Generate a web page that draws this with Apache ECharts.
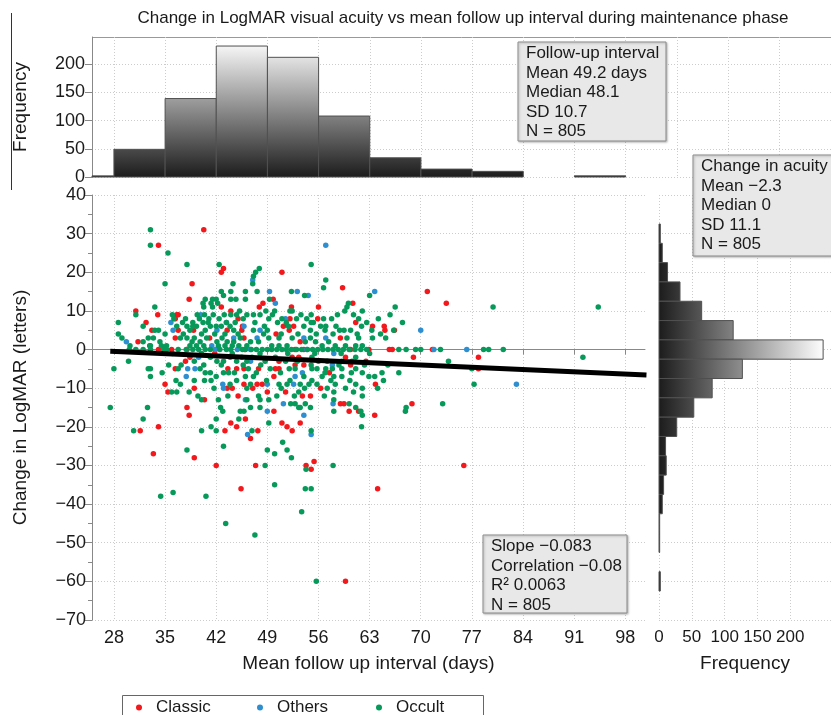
<!DOCTYPE html>
<html>
<head>
<meta charset="utf-8">
<title>Change in LogMAR visual acuity vs mean follow up interval</title>
<script src="https://cdn.jsdelivr.net/npm/echarts@6.0.0/dist/echarts.min.js"></script>
<style>
html, body { margin: 0; padding: 0; background: #fff; }
#chart { width: 831px; height: 715px; }
</style>
</head>
<body>
<div id="chart"></div>
<script>
// follow-up interval histogram (7 day bins, start of bin)
var intervalBinStart = [21, 28, 35, 42, 49, 56, 63, 70, 77, 84, 91];
var intervalCounts = [2, 49, 139, 232, 212, 108, 34, 14, 10, 0, 2];

// change in acuity histogram (5 letter bins, centre of bin)
var acuityBinMid = [30, 25, 20, 15, 10, 5, 0, -5, -10, -15, -20, -25, -30, -35, -40, -45, -50, -55, -60];
var acuityCounts = [2, 5, 13, 32, 65, 113, 250, 127, 81, 53, 27, 10, 11, 7, 5, 1, 1, 0, 2];

var xTicks = [28, 35, 42, 49, 56, 63, 70, 77, 84, 91, 98];
var xTicksTop = [28, 35, 42, 49, 56, 63, 70, 77, 84, 91, 98, 105, 112, 119];
var freqTicks = [0, 50, 100, 150, 200];

// fitted line end points
var regX = [27.5, 100.9];
var regY = [-0.45, -6.6];

var classic = [
  [34.1,27],[40.3,31],[38.7,17],[38.3,13],[43.0,21],[42.7,20],[42.7,11],[31.0,10],[34.0,9],[32.4,7],[36.4,8],[36.6,9],[36.8,9],[44.0,10],[45.0,8],[45.6,6],
  [51.0,20],[59.3,16],[49.8,13],[48.4,12],[47.9,11],[52.3,11],[52.1,8],[51.2,6],[52.6,6],[56.0,11],[55.9,8],[60.7,12],[61.1,7],[63.4,6],[65.0,6],[66.4,5],
  [70.9,15],[73.5,12],[71.6,0],[69.0,-2],[77.9,-2],[77.9,-5],[68.8,-14],
  [52.0,5],[65.1,5],[59.0,3],[53.5,2],[52.8,0],[54.0,0],[60.4,0],[62.9,0],[65.7,0],[66.1,0],[52.4,-2],[53.3,-2],[59.7,-2],[50.6,-3],[52.8,-4],[54.0,-4],[60.4,-4],
  [47.8,-5],[50.1,-5],[50.6,-5],[49.9,-7],[63.8,-9],[47.6,-9],[48.3,-9],[56.3,-10],[49.0,-11],[51.5,-11],[54.9,-12],[53.8,-12],[59.0,-14],[59.5,-14],[61.5,-16],
  [49.9,-16],[60.2,-16],[63.7,-17],[51.0,-19],[51.7,-20],[53.5,-19],[47.7,-21],[46.7,-23],[52.4,-21],
  [33.2,5],[36.8,5],[38.9,5],[43.5,5],[45.5,5],[31.3,2],[36.4,3],[41.1,3],[45.8,3],[32.9,1],[34.1,0],[35.9,0],[38.0,0],[45.9,0],[37.8,-3],[38.4,-2],
  [36.4,-5],[43.6,-5],[44.8,-5],[45.8,-5],[35.0,-9],[45.8,-9],[39.0,-10],[43.5,-10],[44.2,-10],[35.4,-11],[45.0,-12],[40.4,-13],[38.0,-15],[38.3,-17],
  [46.0,-18],[44.0,-19],[34.1,-20],[44.8,-20],[31.6,-21],[43.2,-21],[33.4,-27],[39.0,-28],
  [42.0,-30],[47.4,-30],[54.3,-30],[55.0,-31],[55.4,-29],[75.9,-30],[45.4,-36],[64.1,-36],[59.7,-60],
  [41.8,-1],[50.2,4],[57.5,-6],[47.0,-10],[62.5,-3]
];

var others = [
  [35.8,7],[39.9,9],[43.4,7],
  [57.0,27],[47.0,18],[49.3,15],[53.1,15],[54.6,14],[63.7,15],[50.1,12],[51.5,8],
  [70.0,5],[71.8,0],[76.3,0],[83.1,-9],
  [48.0,5],[47.6,3],[54.0,3],[57.0,3],[46.7,0],[54.4,0],[58.1,-1],[46.7,-3],[57.9,-4],[53.8,-6],[52.8,-7],[49.0,-9],[52.6,-9],[58.0,-14],[51.2,-14],
  [49.0,-16],[54.0,-17],[46.3,-22],[55.0,-22],
  [45.8,6],[36.1,5],[42.1,5],[29.7,2],[44.4,3],[41.4,1],[41.9,0],[44.9,0],[39.6,-2],[38.1,-5],[39.1,-5],[37.9,-7],[42.9,-9],[43.0,-10],[46.0,-13]
];

var occult = [
  [28.6,7],[33.0,31],[33.0,27],[35.4,25],[38.0,22],[35.0,17],[42.4,22],[44.3,17],[42.7,15],[43.0,14],[44.0,15],[44.0,13],[44.7,13],[41.5,13],[40.5,13],
  [42.0,13],[40.2,12],[41.3,12],[42.2,12],[40.3,11],[41.5,11],[31.0,9],[33.6,11],[32.0,6],[36.0,9],[37.4,7],[38.0,6],[38.8,6],[38.8,7],[39.4,9],[40.4,9],
  [40.2,7],[41.6,9],[41.0,8],[42.0,6],[42.7,6],[43.4,7],[43.9,6],[44.0,9],[45.2,10],[44.8,9],[39.3,6],[41.2,6],[36.2,8],
  [55.0,22],[47.9,21],[47.4,20],[47.1,19],[47.0,17],[46.0,15],[47.6,15],[52.3,15],[54.1,14],[57.0,18],[56.7,16],[63.0,14],[49.3,13],[50.0,10],[49.7,9],
  [49.2,8],[48.8,10],[48.0,9],[47.1,9],[46.2,9],[45.7,8],[52.1,10],[52.4,10],[53.0,8],[51.0,8],[51.6,7],[51.9,6],[54.0,6],[55.0,9],[56.7,8],[55.3,7],
  [55.0,7],[56.3,6],[57.0,6],[58.4,6],[60.1,12],[59.9,11],[59.6,10],[62.0,10],[61.9,6],[66.5,11],[58.9,5],[59.5,5],[46.0,13],
  [79.9,11],[94.3,11],[69.3,0],[70.0,0],[72.7,0],[78.6,0],[79.3,0],[81.3,0],[73.8,-3],[77.0,-5],[77.3,-9],[92.2,-2],[73.0,-14],
  [47.1,5],[49.0,5],[54.9,5],[56.9,5],[60.4,5],[63.3,5],[66.3,5],
  [49.2,3],[50.6,3],[52.4,3],[54.9,3],[57.4,2],[59.9,3],[61.5,3],[63.4,3],[65.2,3],
  [46.7,2],[46.2,1],[47.8,2],[49.6,1],[50.6,1],[51.7,1],[54.2,2],[55.6,2],[56.5,1],[58.3,1],[59.7,1],[61.1,1],[62.0,1],
  [46.0,0],[46.8,0],[47.5,0],[48.3,0],[49.0,0],[49.6,0],[50.3,0],[51.0,0],[51.6,0],[52.3,0],[53.0,0],[53.7,0],[54.5,0],[55.2,0],[55.9,0],[56.6,0],
  [57.3,0],[58.0,0],[58.7,0],[59.4,0],[60.2,0],[61.0,0],[61.8,0],[62.6,0],[67.0,0],[68.0,0],
  [46.9,-2],[50.1,-2],[55.1,-2],[61.1,-2],
  [46.2,-3],[48.7,-3],[51.5,-3],[53.1,-3],[56.0,-3],[57.2,-3],[59.2,-3],[60.6,-3],
  [46.4,-5],[49.4,-5],[52.0,-5],[52.8,-5],[55.1,-5],[55.8,-5],[57.0,-5],[57.9,-5],[59.2,-5],[61.1,-5],[64.7,-6],[67.0,-6],
  [46.0,-7],[47.1,-7],[54.0,-7],[55.1,-8],[56.5,-7],[58.1,-7],[59.2,-7],[62.9,-7],[63.7,-7],[64.1,-10],
  [46.7,-9],[50.6,-9],[51.7,-9],[53.5,-9],[54.7,-9],[55.8,-9],[57.2,-10],[58.3,-9],[59.7,-10],[61.1,-9],[62.0,-10],
  [53.3,-11],[58.1,-11],[62.0,-12],[47.8,-12],[50.3,-12],
  [46.2,-13],[48.0,-13],[49.2,-13],[58.1,-13],[60.2,-14],[61.1,-15],[61.8,-16],
  [46.7,-15],[48.0,-15],[52.2,-14],[52.8,-14],[53.5,-15],[54.2,-14],[54.9,-15],[53.3,-15],[58.1,-16],
  [62.0,-17],[68.0,-15],[67.9,-16],[49.2,-19],[61.9,-20],[46.9,-21],[55.0,-21],
  [51.1,-24],[51.7,-26],[49.0,-26],[50.0,-27],[52.3,-28],
  [28.6,4],[29.1,3],[33.6,5],[34.1,5],[38.4,5],[40.5,5],[43.2,4],[44.4,5],
  [32.0,2],[34.3,2],[32.7,3],[33.4,3],[37.1,3],[38.0,3],[38.7,2],[39.0,3],[39.8,2],[40.7,3],[42.1,2],[42.8,3],[43.5,2],[44.4,2],[45.3,3],
  [30.2,1],[33.0,1],[34.5,1],[35.2,1],[38.4,1],[39.3,1],[40.3,1],[42.3,1],[43.2,1],[44.2,1],[45.1,1],
  [30.1,0],[34.8,0],[35.2,0],[36.8,0],[37.9,0],[38.8,0],[39.6,0],[42.5,0],[43.4,0],[44.0,0],[45.6,0],[31.0,0],[32.0,0],[33.0,0],[40.5,0],[41.2,0],
  [30.0,-3],[39.0,-3],[40.3,-4],[41.2,-2],[42.1,-3],[43.0,-3],[43.9,-2],[44.8,-3],[45.5,-2],
  [28.0,-5],[32.7,-5],[33.0,-5],[36.8,-5],[39.8,-5],
  [33.0,-7],[34.6,-6],[40.5,-6],[41.2,-6],[42.0,-7],[43.0,-6],[43.7,-6],[44.5,-6],
  [40.4,-8],[41.3,-8],[37.1,-9],[43.9,-9],[35.9,-11],[36.6,-11],[38.3,-11],[40.0,-13],[42.3,-13],
  [27.5,-15],[32.6,-15],[42.6,-15],[42.9,-16],[45.3,-16],[45.8,-16],[32.0,-18],[42.0,-18],[45.1,-18],[41.3,-20],
  [30.7,-21],[40.0,-21],[42.0,-21],[43.0,-25],[38.0,-26],
  [48.7,-30],[54.3,-31],[58.0,-30],[50.0,-35],[54.2,-36],[55.0,-36],[34.4,-38],[36.1,-37],[40.6,-38],[53.7,-42],[43.3,-45],[47.3,-48],[55.7,-60],
  [36.6,6],[37.8,8],[39.7,8],[40.9,7],[42.4,8],[43.1,9],[44.6,7],[47.3,7],[48.6,6],[50.4,7],[53.6,9],[54.4,8],[57.8,8],[58.6,9],[60.8,9],[61.5,8],
  [62.6,7],[64.2,8],[65.8,9],[67.5,7],
  [35.0,4],[37.5,4],[40.0,4],[41.8,4],[45.0,4],[48.5,4],[50.9,4],[53.2,4],[55.7,4],[58.0,4],[61.3,4],[64.5,4],
  [36.0,-1],[40.0,-1],[44.2,-1],[48.0,-1],[51.8,-1],[55.5,-1],[59.1,-1],[63.0,-1],
  [35.5,-4],[37.2,-4],[42.7,-4],[45.7,-4],[48.1,-4],[55.0,-4],[58.8,-4],[62.3,-4],[65.5,-4],
  [47.5,-6],[50.8,-6],[56.9,-6],[60.5,-6],[62.0,-6],
  [36.5,-8],[39.0,-8],[44.8,-8],[48.9,-8],[52.1,-8],[57.7,-8],[60.3,-8],[64.9,-8],
  [41.7,-10],[46.2,-10],[50.9,-10],[54.1,-10],[60.8,-11],[39.5,-12],[43.6,-12],[52.7,-12],[56.8,-12]
];

var FONT = "'Liberation Sans', Arial, sans-serif";
var GRID_LINE = { show: true, lineStyle: { color: '#cccccc', width: 1, type: [1, 2] } };
var AXIS_LINE = { show: true, lineStyle: { color: '#888888', width: 1 } };

function minusFmt(v) {
  return v < 0 ? '\u2212' + (-v) : String(v);
}

function topBar(params, api) {
  var n = api.value(2);
  if (!n) return null;
  var a = api.coord([api.value(0), n]);
  var b = api.coord([api.value(1), 0]);
  var cs = params.coordSys;
  var shape = echarts.graphic.clipRectByRect(
    { x: a[0], y: a[1], width: b[0] - a[0], height: b[1] - a[1] },
    { x: cs.x, y: cs.y, width: cs.width, height: cs.height }
  );
  if (!shape) return null;
  var y0 = api.coord([30, 240])[1];
  var y1 = api.coord([30, 0])[1];
  return {
    type: 'rect',
    shape: shape,
    style: {
      fill: new echarts.graphic.LinearGradient(0, y0, 0, y1, [
        { offset: 0, color: '#fdfdfd' }, { offset: 1, color: '#1c1c1c' }
      ], true),
      stroke: '#505050',
      lineWidth: 1
    }
  };
}

function rightBar(params, api) {
  var n = api.value(2);
  if (!n) return null;
  var a = api.coord([0, api.value(1)]);
  var b = api.coord([n, api.value(0)]);
  var x0 = api.coord([0, 0])[0];
  var x1 = api.coord([250, 0])[0];
  return {
    type: 'rect',
    shape: { x: a[0], y: a[1], width: b[0] - a[0], height: b[1] - a[1] },
    style: {
      fill: new echarts.graphic.LinearGradient(x0, 0, x1, 0, [
        { offset: 0, color: '#1c1c1c' }, { offset: 1, color: '#fdfdfd' }
      ], true),
      stroke: '#505050',
      lineWidth: 1
    }
  };
}

function statBox(x, y, w, h, lines) {
  return {
    type: 'group',
    x: x, y: y,
    children: [
      {
        type: 'rect',
        shape: { x: 0, y: 0, width: w, height: h },
        style: { fill: '#e8e8e8', stroke: '#8c8c8c', lineWidth: 1,
          shadowBlur: 2, shadowOffsetX: 1, shadowOffsetY: 1, shadowColor: 'rgba(0,0,0,0.25)' },
        z: 50
      },
      {
        type: 'text',
        x: 8, y: 2,
        style: { text: lines.join('\n'), font: '17px ' + FONT, fill: '#1a1a1a', lineHeight: 19.5,
          align: 'left', verticalAlign: 'top' },
        z: 51
      }
    ]
  };
}

function legendItem(name, left) {
  return {
    data: [name],
    left: left, top: 699,
    icon: 'circle',
    itemWidth: 24, itemHeight: 6,
    padding: 0,
    textStyle: { fontSize: 17, color: '#1a1a1a' }
  };
}

var chart = echarts.init(document.getElementById('chart'));

var option = {
  animation: false,
  backgroundColor: '#ffffff',
  textStyle: { fontFamily: FONT },
  grid: [
    { left: 92, top: 37, width: 739, height: 140 },
    { left: 92, top: 195, width: 553, height: 425 },
    { left: 659, top: 195, width: 172, height: 425 }
  ],
  xAxis: [
    {
      gridIndex: 0, type: 'value', min: 25, max: 126.1,
      axisLine: { show: false },
      axisTick: { show: false, customValues: xTicksTop },
      axisLabel: { show: false, customValues: xTicksTop },
      splitLine: GRID_LINE
    },
    {
      gridIndex: 1, type: 'value', min: 25, max: 100.7,
      axisLine: AXIS_LINE,
      axisTick: { show: true, length: 5, lineStyle: { color: '#888888' }, customValues: xTicks },
      axisLabel: { fontSize: 18, color: '#1a1a1a', margin: 9, customValues: xTicks },
      splitLine: GRID_LINE,
      name: 'Mean follow up interval (days)', nameLocation: 'middle', nameGap: 34,
      nameTextStyle: { fontSize: 19, color: '#1a1a1a' }
    },
    {
      gridIndex: 2, type: 'value', min: 0, max: 262,
      axisLine: { show: false },
      axisTick: { show: false, customValues: freqTicks },
      axisLabel: { fontSize: 17, color: '#1a1a1a', margin: 9, customValues: freqTicks },
      splitLine: GRID_LINE,
      name: 'Frequency', nameLocation: 'middle', nameGap: 34,
      nameTextStyle: { fontSize: 19, color: '#1a1a1a' }
    }
  ],
  yAxis: [
    {
      gridIndex: 0, type: 'value', min: 0, max: 248,
      axisLine: AXIS_LINE,
      axisTick: { show: true, length: 7, lineStyle: { color: '#888888' }, customValues: freqTicks },
      axisLabel: { fontSize: 18, color: '#1a1a1a', margin: 7, customValues: freqTicks },
      splitLine: GRID_LINE,
      name: 'Frequency', nameLocation: 'middle', nameGap: 62,
      nameTextStyle: { fontSize: 19, color: '#1a1a1a' }
    },
    {
      gridIndex: 1, type: 'value', min: -70, max: 40, interval: 10,
      axisLine: AXIS_LINE,
      axisTick: { show: true, length: 7, lineStyle: { color: '#888888' } },
      minorTick: { show: true, splitNumber: 2, length: 4, lineStyle: { color: '#888888' } },
      axisLabel: { fontSize: 18, color: '#1a1a1a', margin: 6, formatter: minusFmt },
      splitLine: GRID_LINE,
      name: 'Change in LogMAR (letters)', nameLocation: 'middle', nameGap: 62,
      nameTextStyle: { fontSize: 19, color: '#1a1a1a' }
    },
    {
      gridIndex: 2, type: 'value', min: -70, max: 40, interval: 10,
      axisLine: { show: false },
      axisTick: { show: false },
      axisLabel: { show: false },
      splitLine: GRID_LINE
    }
  ],
  legend: [
    legendItem('Classic', 136),
    legendItem('Others', 257),
    legendItem('Occult', 376)
  ],
  series: [
    {
      name: 'Classic', type: 'scatter', xAxisIndex: 1, yAxisIndex: 1,
      data: classic, symbolSize: 5.5, itemStyle: { color: '#f2181c', opacity: 1 }
    },
    {
      name: 'Others', type: 'scatter', xAxisIndex: 1, yAxisIndex: 1,
      data: others, symbolSize: 5.5, itemStyle: { color: '#2e8fd0', opacity: 1 }
    },
    {
      name: 'Occult', type: 'scatter', xAxisIndex: 1, yAxisIndex: 1,
      data: occult, symbolSize: 5.5, itemStyle: { color: '#07995a', opacity: 1 }
    },
    {
      name: 'fit', type: 'line', xAxisIndex: 1, yAxisIndex: 1,
      data: regX.map(function (x, i) { return [x, regY[i]]; }),
      symbol: 'none', clip: false, z: 5,
      lineStyle: { color: '#000000', width: 5 }
    },
    {
      name: 'interval hist', type: 'custom', xAxisIndex: 0, yAxisIndex: 0,
      renderItem: topBar,
      data: intervalBinStart.map(function (s, i) { return [s, s + 7, intervalCounts[i]]; })
    },
    {
      name: 'acuity hist', type: 'custom', xAxisIndex: 2, yAxisIndex: 2,
      renderItem: rightBar,
      data: acuityBinMid.map(function (m, i) { return [m - 2.5, m + 2.5, acuityCounts[i]]; })
    }
  ],
  graphic: [
    {
      type: 'text', x: 463, y: 18, z: 10,
      style: { text: 'Change in LogMAR visual acuity vs mean follow up interval during maintenance phase',
        font: '17px ' + FONT, fill: '#1a1a1a', align: 'center', verticalAlign: 'middle' }
    },
    { type: 'line', shape: { x1: 11.5, y1: 13, x2: 11.5, y2: 190 }, style: { stroke: '#333333', lineWidth: 1 } },
    { type: 'line', shape: { x1: 92, y1: 37.5, x2: 831, y2: 37.5 }, style: { stroke: '#999999', lineWidth: 1 } },
    { type: 'rect', shape: { x: 122.5, y: 695.5, width: 361, height: 40 },
      style: { fill: 'none', stroke: '#666666', lineWidth: 1 } },
    statBox(518, 42, 148, 99, ['Follow-up interval', 'Mean 49.2 days', 'Median 48.1', 'SD 10.7', 'N = 805']),
    statBox(693, 155, 145, 101, ['Change in acuity', 'Mean \u22122.3', 'Median 0', 'SD 11.1', 'N = 805']),
    statBox(483, 535, 144, 78, ['Slope \u22120.083', 'Correlation \u22120.08', 'R\u00b2 0.0063', 'N = 805'])
  ]
};

chart.setOption(option);
</script>
</body>
</html>
